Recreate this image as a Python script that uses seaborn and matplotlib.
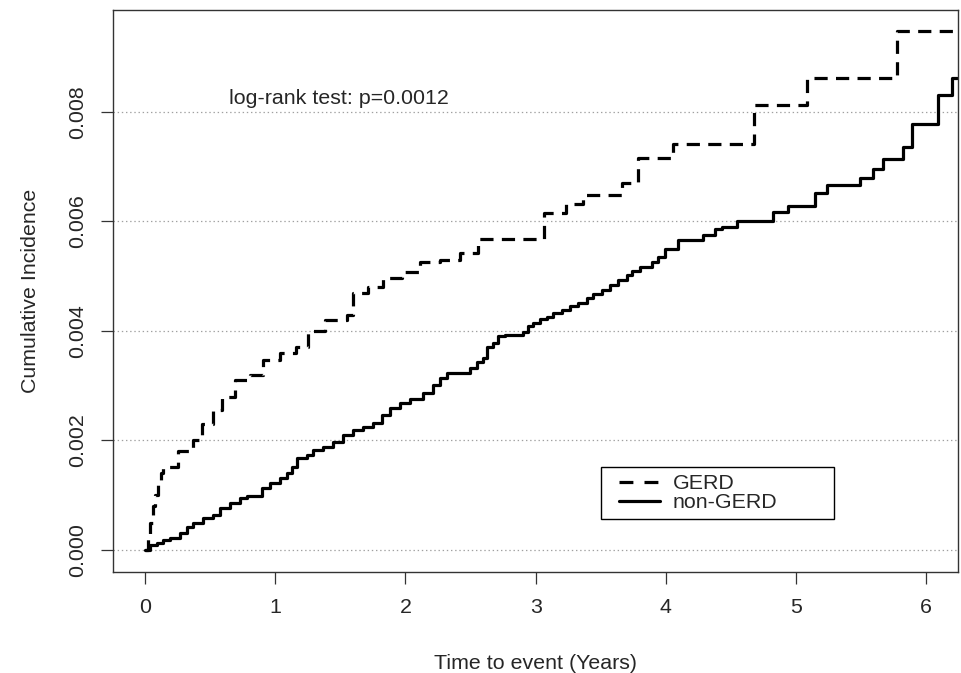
import numpy as np
import pandas as pd
import matplotlib
matplotlib.use("Agg")
import matplotlib.pyplot as plt
from matplotlib.lines import Line2D
from matplotlib.legend_handler import HandlerLine2D
import seaborn as sns

# ---- data ----
gerd_time = [0.0, 0.02, 0.04, 0.06, 0.08, 0.10, 0.125, 0.14, 0.25, 0.37,
             0.44, 0.52, 0.591, 0.691, 0.806, 0.906, 1.037, 1.160, 1.252,
             1.382, 1.551, 1.597, 1.713, 1.828, 1.974, 2.112, 2.266, 2.419, 2.558,
             3.065, 3.233, 3.364, 3.664, 3.787, 4.055, 4.677, 5.084, 5.776, 6.24]
gerd_ci = [0.0, 0.0002, 0.0005, 0.0008, 0.0010, 0.0012, 0.0014, 0.00152, 0.0018, 0.0020,
           0.0023, 0.00256, 0.0028, 0.0031, 0.0032, 0.00347, 0.0036, 0.0037, 0.0040,
           0.0042, 0.0043, 0.0047, 0.0048, 0.00496, 0.00508, 0.00526, 0.0053, 0.00543, 0.00568,
           0.00615, 0.00632, 0.00648, 0.0067, 0.00716, 0.00742, 0.00813, 0.00862, 0.00948, 0.00948]

nongerd_time = [0.0, 0.038, 0.092, 0.138, 0.192, 0.269, 0.323, 0.369, 0.445, 0.522,
                0.576, 0.653, 0.730, 0.783, 0.899, 0.960, 1.037, 1.091, 1.129, 1.167,
                1.244, 1.290, 1.367, 1.444, 1.521, 1.597, 1.674, 1.751, 1.820, 1.882,
                1.959, 2.035, 2.135, 2.212, 2.266, 2.320, 2.496, 2.550, 2.596, 2.627,
                2.673, 2.711, 2.765, 2.903, 2.942, 2.980, 3.034, 3.088, 3.134, 3.203,
                3.264, 3.326, 3.395, 3.441, 3.510, 3.571, 3.633, 3.702, 3.740, 3.802,
                3.894, 3.940, 3.994, 4.094, 4.286, 4.378, 4.432, 4.547, 4.823, 4.939,
                5.146, 5.238, 5.492, 5.591, 5.668, 5.822, 5.891, 6.091, 6.198, 6.24]
nongerd_ci = [0.0, 0.00009, 0.00013, 0.00018, 0.00022, 0.00031, 0.00042, 0.00049, 0.00058, 0.00064,
              0.00077, 0.00086, 0.00095, 0.00099, 0.00113, 0.00122, 0.00131, 0.0014, 0.00152, 0.00168,
              0.00174, 0.00183, 0.00188, 0.00197, 0.0021, 0.00219, 0.00225, 0.00232, 0.00247, 0.00259,
              0.00268, 0.00276, 0.00287, 0.00301, 0.00314, 0.00323, 0.00332, 0.00344, 0.0035, 0.00371,
              0.00378, 0.0039, 0.00393, 0.00399, 0.00409, 0.00414, 0.00422, 0.00426, 0.00432, 0.00438,
              0.00446, 0.00452, 0.0046, 0.00467, 0.00475, 0.00484, 0.00493, 0.00502, 0.0051, 0.00517,
              0.00526, 0.00535, 0.00549, 0.00566, 0.00575, 0.00586, 0.0059, 0.006, 0.00617, 0.00628,
              0.00652, 0.00667, 0.00679, 0.00696, 0.00714, 0.00736, 0.00778, 0.00831, 0.00862, 0.00862]

groups = ["GERD", "non-GERD"]
x_ticks = [0, 1, 2, 3, 4, 5, 6]
y_ticks = [0.000, 0.002, 0.004, 0.006, 0.008]
y_tick_labels = ["0.000", "0.002", "0.004", "0.006", "0.008"]
annotation = "log-rank test: p=0.0012"

df = pd.concat([
    pd.DataFrame({"time": gerd_time, "ci": gerd_ci, "group": groups[0]}),
    pd.DataFrame({"time": nongerd_time, "ci": nongerd_ci, "group": groups[1]}),
], ignore_index=True)

# ---- style ----
sns.set_style("white")
plt.rcParams["font.family"] = ["Liberation Sans", "DejaVu Sans"]
plt.rcParams["lines.scale_dashes"] = False
FS = 15.4

fig = plt.figure(figsize=(9.61, 6.73), dpi=100)
ax = fig.add_axes([113 / 961, 1 - 572 / 673, (958 - 113) / 961, (572 - 10) / 673])

dash_pat = (9.5, 6.0)
sns.lineplot(data=df, x="time", y="ci", hue="group", style="group",
             palette={"GERD": "black", "non-GERD": "black"},
             dashes={"GERD": dash_pat, "non-GERD": ""},
             estimator=None, sort=False, drawstyle="steps-post",
             lw=2.3, legend=False, ax=ax)

ax.set_xlim(-0.246, 6.244)
ax.set_ylim(-0.000402, 0.009863)

for yv in y_ticks:
    ax.axhline(yv, color="#a0a0a0", lw=0.9, ls=(0, (1, 2)), zorder=0)

ax.set_xticks(x_ticks)
ax.set_xticklabels([str(v) for v in x_ticks], fontsize=FS)
ax.set_yticks(y_ticks)
ax.set_yticklabels(y_tick_labels, fontsize=FS, rotation=90, va="center")
ax.tick_params(axis="both", direction="out", length=8.6, width=0.9,
               color="#333333", pad=10, left=True, bottom=True)

for sp in ax.spines.values():
    sp.set_visible(True)
    sp.set_color("#333333")
    sp.set_linewidth(1.0)

ax.set_xlabel("Time to event (Years)", fontsize=FS, labelpad=26.5)
ax.set_ylabel("Cumulative Incidence", fontsize=FS, labelpad=20)

ax.text(1.49, 0.00824, annotation, fontsize=FS, ha="center", va="center")


class LeftPadHandler(HandlerLine2D):
    def get_xdata(self, legend, xdescent, ydescent, width, height, fontsize):
        x0 = -xdescent + 0.5 * fontsize
        x1 = -xdescent + width
        return [x0, x1], [0.5 * (x0 + x1)]


handles = [Line2D([0], [0], color="black", lw=2.3, ls=(0, (10, 8))),
           Line2D([0], [0], color="black", lw=2.3)]
leg = ax.legend(handles, groups, loc="upper left",
                bbox_to_anchor=((601 - 113) / 845, (572 - 467) / 562, (834 - 601) / 845, 0.0),
                mode="expand", fontsize=FS, frameon=True, fancybox=False,
                edgecolor="black", framealpha=1, borderpad=0.33,
                labelspacing=0.0, handlelength=2.45, handletextpad=0.58,
                borderaxespad=0.0,
                handler_map={Line2D: LeftPadHandler()})
leg.get_frame().set_linewidth(1.0)

fig.savefig("out.png", dpi=100)
